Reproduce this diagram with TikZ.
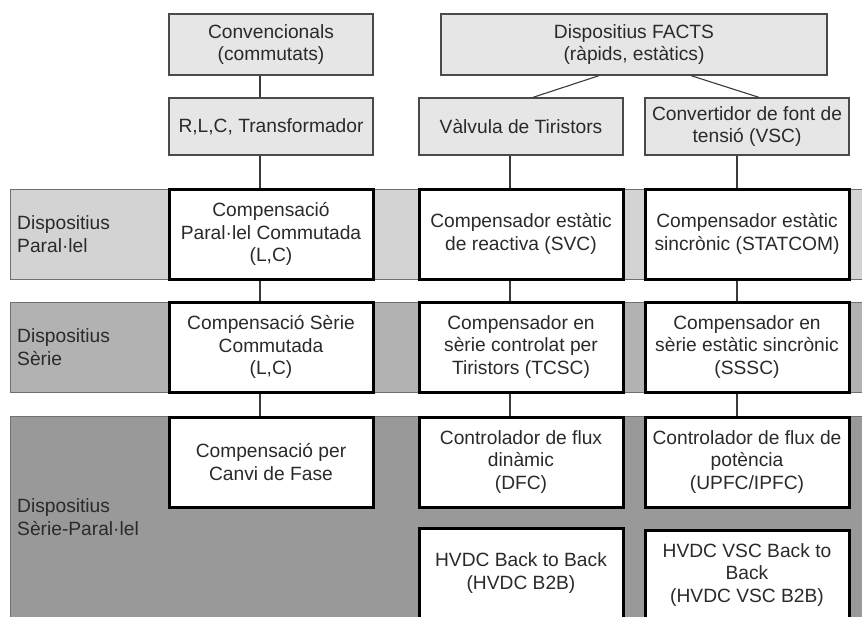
\documentclass[tikz,border=0pt]{standalone}
\usepackage{fontspec}
\setmainfont{Liberation Sans}
\definecolor{txt}{HTML}{2A2A2A}
\definecolor{edge}{HTML}{4A4A4A}
\definecolor{wire}{HTML}{3A3A3A}
\definecolor{topfill}{HTML}{E6E6E6}
\definecolor{bandedge}{HTML}{707070}
\definecolor{bandA}{HTML}{D3D3D3}
\definecolor{bandB}{HTML}{B2B2B2}
\definecolor{bandC}{HTML}{999999}
\begin{document}
\begin{tikzpicture}[x=1pt,y=-1pt,
  every node/.style={font=\fontsize{19.2}{22.5}\selectfont, text=txt, align=center, inner sep=0pt},
  topbox/.style={draw=edge, line width=1.3pt, fill=topfill, minimum width=204pt},
  devbox/.style={draw=black, line width=3pt, fill=white, minimum width=204pt, minimum height=90pt},
  band/.style={draw=bandedge, line width=0.8pt},
  link/.style={draw=wire, line width=1.1pt},
  rowlabel/.style={anchor=west, align=left}]
\useasboundingbox (0,0) rectangle (862,616);
\clip (0,0) rectangle (862,616);

% horizontal bands for the three device families
\fill[bandA, band] (10,189) rectangle (875,279);
\fill[bandB, band] (10,302) rectangle (875,392);
\fill[bandC, band] (10,416) rectangle (875,640);

\node[rowlabel] (lpar) at (17,234) {Dispositius\\Paral·lel};
\node[rowlabel] (lser) at (17,347) {Dispositius\\Sèrie};
\node[rowlabel] (lsp)  at (17,517) {Dispositius\\Sèrie-Paral·lel};

% technology headers
\node[topbox, minimum height=61pt] (conv) at (271,44.5) {Convencionals\\(commutats)};
\node[topbox, minimum height=57pt] (rlc) at (271,126.5) {R,L,C, Transformador};
\node[topbox, minimum width=386pt, minimum height=61pt] (facts) at (634,44.5) {Dispositius FACTS\\(ràpids, estàtics)};
\node[topbox, minimum height=57pt] (tir) at (521,126.5) {Vàlvula de Tiristors};
\node[topbox, minimum height=57pt] (vsc) at (747,126.5) {Convertidor de font de\\tensió (VSC)};

% devices
\node[devbox] (p1) at (271,234) {Compensació\\Paral·lel Commutada\\(L,C)};
\node[devbox] (p2) at (521,234) {Compensador estàtic\\de reactiva (SVC)};
\node[devbox] (p3) at (747,234) {Compensador estàtic\\sincrònic (STATCOM)};

\node[devbox] (s1) at (271,347) {Compensació Sèrie\\Commutada\\(L,C)};
\node[devbox] (s2) at (521,347) {Compensador en\\sèrie controlat per\\Tiristors (TCSC)};
\node[devbox] (s3) at (747,347) {Compensador en\\sèrie estàtic sincrònic\\(SSSC)};

\node[devbox] (f1) at (271,462) {Compensació per\\Canvi de Fase};
\node[devbox] (f2) at (521,462) {Controlador de flux\\dinàmic\\(DFC)};
\node[devbox] (f3) at (747,462) {Controlador de flux de\\potència\\(UPFC/IPFC)};

\node[devbox] (h2) at (521,573) {HVDC Back to Back\\(HVDC B2B)};
\node[devbox] (h3) at (747,575) {HVDC VSC Back to\\Back\\(HVDC VSC B2B)};

% connectors
\draw[link] ([xshift=-11pt]conv.south) -- ([xshift=-11pt]rlc.north);
\draw[link] ([xshift=-35pt]facts.south) -- ([xshift=12pt]tir.north);
\draw[link] ([xshift=57pt]facts.south) -- ([xshift=12pt]vsc.north);

\draw[link] ([xshift=-11pt]rlc.south) -- ([xshift=-11pt]p1.north);
\draw[link] ([xshift=-11pt]p1.south) -- ([xshift=-11pt]s1.north);
\draw[link] ([xshift=-11pt]s1.south) -- ([xshift=-11pt]f1.north);

\draw[link] ([xshift=-11pt]tir.south) -- ([xshift=-11pt]p2.north);
\draw[link] ([xshift=-11pt]p2.south) -- ([xshift=-11pt]s2.north);
\draw[link] ([xshift=-11pt]s2.south) -- ([xshift=-11pt]f2.north);

\draw[link] ([xshift=-10pt]vsc.south) -- ([xshift=-10pt]p3.north);
\draw[link] ([xshift=-10pt]p3.south) -- ([xshift=-10pt]s3.north);
\draw[link] ([xshift=-10pt]s3.south) -- ([xshift=-10pt]f3.north);
\end{tikzpicture}
\end{document}
